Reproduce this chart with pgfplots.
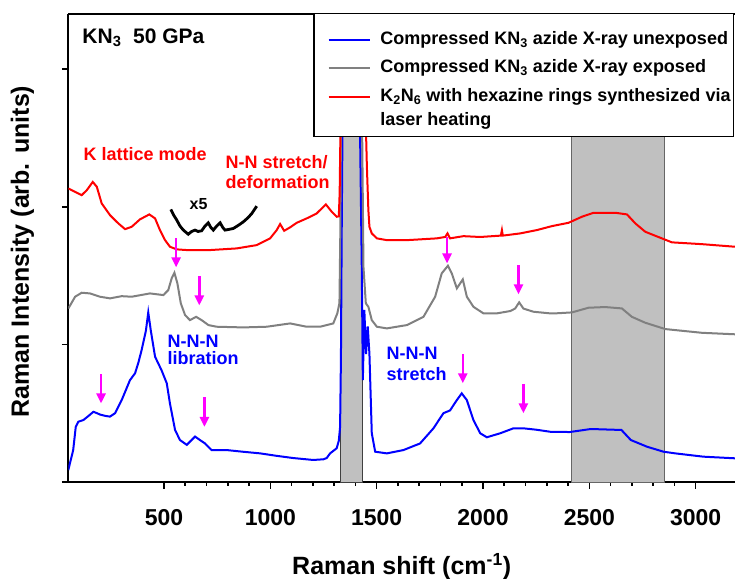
\documentclass[border=0pt]{standalone}
\usepackage{fontspec}
\setmainfont{Liberation Sans}
\usepackage{pgfplots}
\pgfplotsset{compat=1.18}
\usetikzlibrary{arrows.meta}
\definecolor{bandgray}{RGB}{192,192,192}
\definecolor{myblue}{RGB}{0,0,255}
\definecolor{mygray}{RGB}{128,128,128}
\definecolor{myred}{RGB}{255,0,0}
\definecolor{mymag}{RGB}{255,0,255}
\newcommand{\annfont}{\fontsize{18}{21}\selectfont\bfseries}
\begin{document}
\begin{tikzpicture}
\begin{axis}[
  at={(68.3pt,96pt)}, anchor=south west,
  scale only axis, width=666.7pt, height=468pt,
  xmin=50, xmax=3185, ymin=0, ymax=3.40,
  axis x line*=box, axis y line*=left,
  axis line style={line width=1.8pt,-},
  xtick={500,1000,1500,2000,2500,3000},
  minor x tick num=4,
  ytick={0,1,2,3}, yticklabels={},
  tick align=outside, xtick pos=bottom, ytick pos=left,
  major tick length=6.5pt, minor tick length=3.5pt,
  tick style={line width=1.6pt, black},
  /pgf/number format/assume math mode=true,
  /pgf/number format/1000 sep={},
  tick label style={font=\fontsize{23}{27}\selectfont\bfseries},
  xticklabel shift=17pt,
  xlabel={Raman shift (cm\textsuperscript{-1})},
  ylabel={Raman Intensity (arb. units)},
  xlabel style={font=\fontsize{25}{30}\selectfont\bfseries, at={(axis description cs:0.5,-0.18)}, anchor=center},
  ylabel style={font=\fontsize{25}{30}\selectfont\bfseries, at={(axis description cs:-0.069,0.4925)}, anchor=center},
  legend style={at={(axis description cs:0.3675,1.003)}, anchor=north west,
    draw=black, line width=1.3pt, fill=white,
    inner xsep=3pt, inner ysep=0pt, column sep=9.7pt,
    font=\fontsize{18}{21}\selectfont\bfseries,
    cells={anchor=base west},
    nodes={inner sep=0pt}},
]
% shaded bands
\addplot[forget plot, fill=bandgray, draw=black!75, line width=0.9pt] coordinates {(1331,0) (1331,3.6) (1435,3.6) (1435,0)} \closedcycle;
\addplot[forget plot, fill=bandgray, draw=black!60, line width=0.9pt] coordinates {(2418,0) (2418,3.6) (2852,3.6) (2852,0)} \closedcycle;

% blue: unexposed
\addplot[forget plot, myblue, line width=2pt] coordinates {
(50,0.087) (60,0.15) (73,0.232) (85,0.40) (97,0.438) (121,0.45) (145,0.48) (168,0.51) (185,0.50) (199,0.49) (225,0.48) (246,0.475) (270,0.50) (301,0.595) (340,0.74) (364,0.79) (380,0.87) (395,0.96) (415,1.10) (426,1.232) (438,1.10) (458,0.91) (489,0.81) (513,0.717) (528,0.57) (552,0.378) (575,0.305) (607,0.27) (630,0.305) (646,0.33) (669,0.305) (693,0.28) (724,0.232) (795,0.232) (870,0.22) (952,0.208) (1030,0.19) (1108,0.174) (1202,0.16) (1250,0.165) (1265,0.174) (1281,0.208) (1312,0.245) (1322,0.30) (1328,0.40) (1332,0.9) (1336,1.9) (1340,2.7) (1345,3.4) (1352,3.9) (1380,4.1) (1410,3.9) (1417,3.2) (1422,2.52) (1430,1.56) (1435,0.74) (1442,1.25) (1450,0.93) (1458,1.13) (1466,0.93) (1477,0.354) (1493,0.22) (1548,0.208) (1626,0.232) (1704,0.28) (1767,0.39) (1814,0.5) (1845,0.52) (1877,0.595) (1900,0.644) (1924,0.595) (1955,0.45) (1987,0.354) (2018,0.325) (2081,0.354) (2143,0.39) (2190,0.39) (2250,0.38) (2316,0.365) (2408,0.363) (2507,0.385) (2651,0.378) (2695,0.305) (2772,0.256) (2849,0.22) (2904,0.208) (3036,0.184) (3186,0.172)
};

% gray: exposed
\addplot[forget plot, mygray, line width=2pt] coordinates {
(50,1.26) (82,1.346) (113,1.375) (152,1.37) (199,1.346) (246,1.334) (301,1.35) (348,1.346) (434,1.37) (497,1.358) (520,1.394) (536,1.479) (549,1.52) (563,1.443) (579,1.298) (599,1.213) (622,1.176) (651,1.20) (677,1.176) (709,1.14) (748,1.128) (873,1.123) (983,1.128) (1093,1.152) (1171,1.128) (1234,1.128) (1265,1.14) (1296,1.152) (1315,1.225) (1325,1.3) (1329,1.8) (1333,2.8) (1338,3.6) (1380,4.0) (1425,3.6) (1432,2.5) (1438,1.56) (1449,1.298) (1461,1.273) (1477,1.176) (1501,1.128) (1548,1.116) (1642,1.14) (1720,1.20) (1775,1.346) (1806,1.516) (1835,1.571) (1853,1.516) (1877,1.407) (1905,1.472) (1924,1.346) (1955,1.273) (2002,1.225) (2065,1.225) (2128,1.242) (2151,1.26) (2170,1.305) (2190,1.26) (2237,1.237) (2316,1.225) (2339,1.225) (2418,1.232) (2496,1.266) (2574,1.271) (2653,1.261) (2700,1.20) (2763,1.157) (2857,1.111) (3029,1.084) (3186,1.073)
};

% red: K2N6
\addplot[forget plot, myred, line width=2pt] coordinates {
(50,2.133) (82,2.108) (113,2.084) (137,2.12) (165,2.18) (184,2.145) (207,2.024) (246,1.939) (285,1.879) (317,1.837) (348,1.854) (387,1.908) (431,1.944) (458,1.915) (481,1.83) (505,1.757) (528,1.709) (560,1.69) (607,1.685) (717,1.685) (842,1.697) (936,1.721) (999,1.77) (1030,1.83) (1046,1.874) (1065,1.825) (1093,1.85) (1124,1.883) (1171,1.915) (1218,1.951) (1261,2.017) (1289,1.963) (1312,1.927) (1322,1.93) (1326,2.1) (1331,2.7) (1336,3.5) (1345,4.0) (1440,4.0) (1446,3.0) (1449,2.6) (1454,2.29) (1461,1.975) (1466,1.854) (1477,1.806) (1501,1.77) (1548,1.757) (1642,1.757) (1783,1.77) (1822,1.78) (1833,1.806) (1845,1.77) (1908,1.786) (1987,1.78) (2084,1.79) (2089,1.83) (2093,1.79) (2175,1.806) (2253,1.83) (2324,1.859) (2402,1.883) (2465,1.927) (2520,1.956) (2622,1.956) (2677,1.944) (2716,1.879) (2763,1.818) (2841,1.77) (2888,1.741) (3029,1.728) (3186,1.709)
};

% x5 magnified segment
\addplot[forget plot, black, line width=2.8pt] coordinates {
(532,1.98) (545,1.94) (560,1.903) (575,1.86) (591,1.83) (614,1.80) (630,1.82) (646,1.83) (660,1.82) (677,1.825) (693,1.86) (708,1.883) (720,1.85) (732,1.83) (748,1.86) (764,1.883) (776,1.85) (787,1.83) (805,1.835) (826,1.842) (850,1.865) (873,1.89) (895,1.92) (913,1.951) (936,2.004)
};

% dummy first legend row (top padding)
\addlegendimage{legend image code/.code={\path (0pt,0pt);}}
\addlegendentry[text height=12.1pt, text depth=0pt]{}
\addlegendimage{legend image code/.code={\draw[draw=myblue, line width=2.2pt] (11pt,4.5pt) -- (52pt,4.5pt); \path (0pt,4.5pt);}}
\addlegendentry[text height=18.5pt, text depth=10pt]{Compressed KN\textsubscript{3} azide X-ray unexposed}
\addlegendimage{legend image code/.code={\draw[draw=mygray, line width=2.2pt] (11pt,4.5pt) -- (52pt,4.5pt); \path (0pt,4.5pt);}}
\addlegendentry[text height=18.4pt, text depth=10pt]{Compressed KN\textsubscript{3} azide X-ray exposed}
\addlegendimage{legend image code/.code={\draw[draw=myred, line width=2.2pt] (11pt,4.5pt) -- (52pt,4.5pt); \path (0pt,4.5pt);}}
\addlegendentry[text height=18.3pt, text depth=10pt]{K\textsubscript{2}N\textsubscript{6} with hexazine rings synthesized via}
\addlegendimage{legend image code/.code={\path (0pt,4.5pt);}}
\addlegendentry[text height=14.7pt, text depth=10.3pt]{laser heating}

% arrows
\begin{scope}[mymag, line width=2.5pt, -{Triangle[width=9pt,length=10pt]}]
\draw (axis cs:204,0.784) -- (axis cs:204,0.571);
\draw (axis cs:690,0.615) -- (axis cs:690,0.40);
\draw (axis cs:557,1.77) -- (axis cs:557,1.559);
\draw (axis cs:666,1.496) -- (axis cs:666,1.283);
\draw (axis cs:1831,1.781) -- (axis cs:1831,1.588);
\draw (axis cs:2167,1.576) -- (axis cs:2167,1.363);
\draw (axis cs:1905,0.93) -- (axis cs:1905,0.717);
\draw (axis cs:2190,0.712) -- (axis cs:2190,0.499);
\end{scope}

% annotations
\node[anchor=base west, font=\fontsize{21}{25}\selectfont\bfseries] at (axis cs:100,3.186) {KN\textsubscript{3}\ \ 50 GPa};
\node[anchor=base west, text=myred, font=\annfont] at (axis cs:105,2.333) {K lattice mode};
\node[anchor=base west, text=myred, font=\annfont] at (axis cs:773,2.278) {N-N stretch/};
\node[anchor=base west, text=myred, font=\annfont] at (axis cs:773,2.133) {deformation};
\node[anchor=base west, font=\fontsize{16}{19}\selectfont\bfseries] at (axis cs:604,1.98) {x5};
\node[anchor=base west, text=myblue, font=\annfont] at (axis cs:500,0.980) {N-N-N};
\node[anchor=base west, text=myblue, font=\annfont] at (axis cs:500,0.85) {libration};
\node[anchor=base west, text=myblue, font=\annfont] at (axis cs:1530,0.891) {N-N-N};
\node[anchor=base west, text=myblue, font=\annfont] at (axis cs:1530,0.741) {stretch};
\end{axis}
\pgfresetboundingbox
\path[use as bounding box] (0pt,0pt) rectangle (735pt,578pt);
\end{tikzpicture}
\end{document}
